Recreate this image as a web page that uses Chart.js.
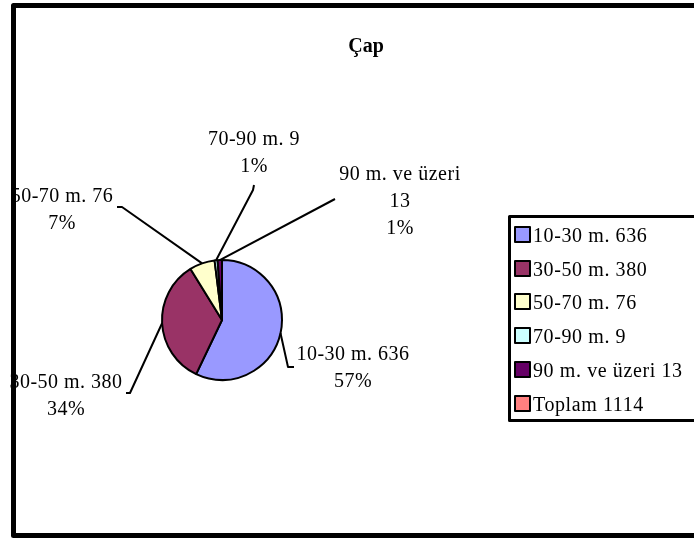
<!DOCTYPE html>
<html><head><meta charset="utf-8">
<script src="https://cdn.jsdelivr.net/npm/chart.js@4/dist/chart.umd.min.js"></script>
<style>html,body{margin:0;padding:0;background:#fff;overflow:hidden}canvas{display:block}</style>
</head><body>
<canvas id="c" width="694" height="539"></canvas>
<script>
const chartTitle = "Çap";
const categories = ["10-30 m. 636", "30-50 m. 380", "50-70 m. 76", "70-90 m. 9", "90 m. ve üzeri 13", "Toplam 1114"];
const values = [636, 380, 76, 9, 13, 0];
const colors = ["#9999FF", "#993366", "#FFFFCC", "#CCFFFF", "#660066", "#FF8080"];

// label placement (pixels relative to the pie centre): leader path points and text anchor
const labelLayout = [
  { path: [[66, 47], [72, 47]], text: [131, 40] },
  { path: [[-92, 73], [-96, 73]], text: [-156, 68] },
  { path: [[-100, -113], [-105, -113]], text: [-160, -118] },
  { path: [[31, -130], [32, -135]], text: [32, -175] },
  { path: [[113, -121]], text: [178, -140] },
  null
];

const FONT = '"Liberation Serif","Times New Roman",serif';

function wrap(ctx, text, maxW) {
  const words = text.split(' ');
  const out = [];
  let cur = '';
  words.forEach(w => {
    const t = cur ? cur + ' ' + w : w;
    if (cur && ctx.measureText(t).width > maxW) { out.push(cur); cur = w; }
    else cur = t;
  });
  if (cur) out.push(cur);
  return out;
}

const decor = {
  id: 'decor',
  beforeDraw(chart) {
    const ctx = chart.ctx;
    ctx.save();
    ctx.fillStyle = '#fff';
    ctx.fillRect(0, 0, chart.width, chart.height);
    ctx.restore();
  },
  afterDatasetsDraw(chart) {
    const ctx = chart.ctx;
    const meta = chart.getDatasetMeta(0);
    const total = meta.total;
    ctx.save();
    ctx.font = '20px ' + FONT;
    ctx.letterSpacing = '0.5px';
    meta.data.forEach((arc, i) => {
      const v = values[i];
      const L = labelLayout[i];
      if (!v || !L) return;
      const a = (arc.startAngle + arc.endAngle) / 2;
      const cx = arc.x, cy = arc.y, r = arc.outerRadius;
      ctx.strokeStyle = '#000';
      ctx.lineWidth = 2;
      ctx.lineJoin = 'round';
      ctx.beginPath();
      ctx.moveTo(cx + Math.cos(a) * r, cy + Math.sin(a) * r);
      L.path.forEach(p => ctx.lineTo(cx + p[0], cy + p[1]));
      ctx.stroke();
      const lines = wrap(ctx, categories[i], 125).concat([Math.round(v / total * 100) + '%']);
      ctx.fillStyle = '#000';
      ctx.textAlign = 'center';
      ctx.textBaseline = 'alphabetic';
      lines.forEach((t, k) => ctx.fillText(t, cx + L.text[0], cy + L.text[1] + k * 27));
    });

    // title
    ctx.letterSpacing = '0px';
    ctx.font = 'bold 20px ' + FONT;
    ctx.textAlign = 'center';
    ctx.fillStyle = '#000';
    ctx.fillText(chartTitle, 366, 52);

    // legend
    ctx.lineWidth = 3;
    ctx.strokeStyle = '#000';
    ctx.strokeRect(509.5, 216.5, 300, 204);
    ctx.font = '20px ' + FONT;
    ctx.letterSpacing = '0.6px';
    ctx.textAlign = 'left';
    categories.forEach((c, i) => {
      const yc = 235 + i * 33.7;
      const top = Math.round(yc) - 8;
      ctx.fillStyle = colors[i];
      ctx.fillRect(515, top, 15, 15);
      ctx.lineWidth = 2;
      ctx.strokeStyle = '#000';
      ctx.strokeRect(515, top, 15, 15);
      ctx.fillStyle = '#000';
      ctx.fillText(c, 533, yc + 7);
    });

    // outer frame
    ctx.lineWidth = 5;
    ctx.strokeRect(13.5, 5.5, 740, 530);
    ctx.restore();
  }
};

new Chart(document.getElementById('c'), {
  type: 'pie',
  data: {
    labels: categories,
    datasets: [{
      data: values,
      backgroundColor: colors,
      borderColor: '#000',
      borderWidth: 2,
      hoverBorderWidth: 2,
      hoverOffset: 0
    }]
  },
  options: {
    responsive: false,
    devicePixelRatio: 1,
    animation: false,
    events: [],
    layout: { padding: { left: 161, right: 411, top: 259, bottom: 158 } },
    plugins: { legend: { display: false }, title: { display: false }, tooltip: { enabled: false } }
  },
  plugins: [decor]
});
</script>
</body></html>
